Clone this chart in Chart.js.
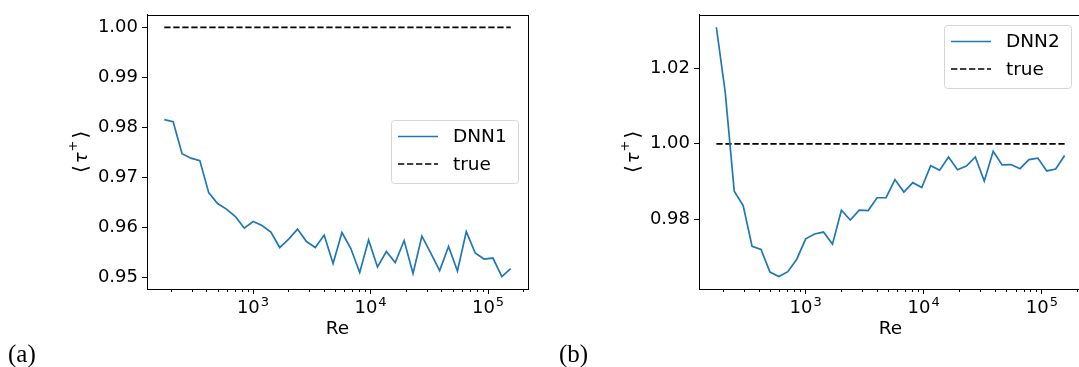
<!DOCTYPE html>
<html><head><meta charset="utf-8">
<script src="https://cdn.jsdelivr.net/npm/chart.js@4/dist/chart.umd.min.js"></script>
<style>
html,body{margin:0;padding:0;background:#fff;overflow:hidden;width:1079px;height:367px;position:relative;}
.box{position:absolute;top:0;}
.lab{position:absolute;font-family:"Liberation Serif","DejaVu Serif",serif;font-size:25px;color:#000;line-height:1;}
</style></head><body>
<div class="box" style="left:0;width:540px;height:367px"><canvas id="c1" width="540" height="367"></canvas></div>
<div class="box" style="left:540px;width:560px;height:367px"><canvas id="c2" width="560" height="367"></canvas></div>
<div class="lab" style="left:8px;top:341px">(a)</div>
<div class="lab" style="left:559px;top:341px">(b)</div>
<script>
// ---- data ----
const reValues = [175.8, 209.2, 249.0, 296.3, 352.7, 419.8, 499.5, 594.5, 707.5, 842.1,
  1002, 1193, 1419, 1689, 2011, 2393, 2848, 3388, 4033, 4800,
  5713, 6799, 8091, 9630, 11460, 13640, 16230, 19320, 22990, 27360,
  32560, 38750, 46120, 54890, 65330, 77750, 92520, 110100, 131000, 156000];
const dnn1 = [0.9815, 0.9811, 0.9747, 0.9738, 0.9733, 0.9669, 0.9647, 0.9636, 0.9621, 0.9598,
  0.9611, 0.9603, 0.9590, 0.9559, 0.9576, 0.9596, 0.9571, 0.9559, 0.9584, 0.9527,
  0.9589, 0.9557, 0.9509, 0.9574, 0.9520, 0.9551, 0.9529, 0.9573, 0.9507, 0.9582,
  0.9548, 0.9513, 0.9561, 0.9512, 0.9591, 0.9548, 0.9536, 0.9538, 0.9501, 0.9517];
const dnn2 = [1.0309, 1.0135, 0.9874, 0.9836, 0.9728, 0.9720, 0.9660, 0.9648, 0.9661, 0.9694,
  0.9748, 0.9761, 0.9766, 0.9734, 0.9824, 0.9798, 0.9824, 0.9823, 0.9857, 0.9857,
  0.9905, 0.9872, 0.9897, 0.9884, 0.9942, 0.9930, 0.9965, 0.9931, 0.9941, 0.9965,
  0.9901, 0.9980, 0.9944, 0.9945, 0.9934, 0.9958, 0.9962, 0.9928, 0.9933, 0.9969];
const trueRe = [175.8, 156000];
const trueValue = [1.0, 1.0];
const xMajorTicks = [1e3, 1e4, 1e5];
const xTickBase = ['10', '10', '10'];
const xTickExp = ['3', '4', '5'];
const y1Ticks = [0.95, 0.96, 0.97, 0.98, 0.99, 1.00];
const y1TickLabels = ['0.95', '0.96', '0.97', '0.98', '0.99', '1.00'];
const y2Ticks = [0.98, 1.00, 1.02];
const y2TickLabels = ['0.98', '1.00', '1.02'];
const seriesNames = ['DNN1', 'DNN2', 'true'];
const xTitle = 'Re';

// ---- drawing ----
const FAM = '"DejaVu Sans", sans-serif';
const FONT = {family: FAM, size: 18};
const BLUE = '#1f77b4';

const framePlugin = {
  id: 'frame',
  afterDatasetsDraw(chart) {
    const {ctx, chartArea: a} = chart;
    ctx.save();
    ctx.strokeStyle = '#000'; ctx.lineWidth = 1;
    ctx.strokeRect(Math.round(a.left) + 0.5, Math.round(a.top) + 0.5, Math.round(a.right - a.left), Math.round(a.bottom - a.top));
    // minor x ticks
    const xs = chart.scales.x;
    ctx.beginPath();
    for (let d = 2; d <= 5; d++) {
      for (let m = 2; m <= 9; m++) {
        const v = m * Math.pow(10, d);
        if (v < xs.min || v > xs.max) continue;
        const px = Math.round(xs.getPixelForValue(v)) + 0.5;
        ctx.moveTo(px, a.bottom); ctx.lineTo(px, a.bottom + 3);
      }
    }
    ctx.stroke();
    // x tick labels 10^n
    ctx.fillStyle = '#000';
    ctx.textBaseline = 'alphabetic'; ctx.textAlign = 'left';
    xMajorTicks.forEach((v, i) => {
      const px = xs.getPixelForValue(v);
      ctx.font = '18px ' + FAM;
      const wb = ctx.measureText(xTickBase[i]).width;
      ctx.font = '13px ' + FAM;
      const we = ctx.measureText(xTickExp[i]).width;
      const x0 = px - (wb + we + 1) / 2;
      ctx.font = '18px ' + FAM;
      ctx.fillText(xTickBase[i], x0, a.bottom + 24);
      ctx.font = '13px ' + FAM;
      ctx.fillText(xTickExp[i], x0 + wb + 1, a.bottom + 17);
    });
    // y title <tau^+>
    const cy = (a.top + a.bottom) / 2;
    const cx = a.left - 66;
    ctx.translate(cx, cy);
    ctx.rotate(-Math.PI / 2);
    const parts = [
      {t: '\u27E8', f: '20px ' + FAM, dy: 0, gap: 2},
      {t: '\u03C4', f: 'italic 18px ' + FAM, dy: 0, gap: 1},
      {t: '+', f: '13px ' + FAM, dy: -8, gap: 2},
      {t: '\u27E9', f: '20px ' + FAM, dy: 0, gap: 0}
    ];
    let tw = 0;
    parts.forEach(p => { ctx.font = p.f; p.w = ctx.measureText(p.t).width; tw += p.w + p.gap; });
    let xx = -tw / 2;
    ctx.textBaseline = 'middle';
    parts.forEach(p => { ctx.font = p.f; ctx.fillText(p.t, xx, p.dy + 1); xx += p.w + p.gap; });
    ctx.restore();
  }
};

const legendPlugin = {
  id: 'boxLegend',
  afterDraw(chart, args, o) {
    const {ctx, chartArea: a} = chart;
    const x0 = Math.round(a.right - o.right - o.width);
    const y0 = Math.round(o.center ? (a.top + a.bottom) / 2 - o.height / 2 : a.top + o.top);
    ctx.save();
    ctx.beginPath();
    ctx.roundRect(x0 + 0.5, y0 + 0.5, o.width, o.height, 3);
    ctx.fillStyle = 'rgba(255,255,255,0.8)'; ctx.fill();
    ctx.strokeStyle = '#d6d6d6'; ctx.lineWidth = 1; ctx.stroke();
    chart.data.datasets.forEach((ds, i) => {
      const yy = y0 + 16.5 + i * 27.5;
      ctx.beginPath();
      ctx.setLineDash(ds.borderDash || []);
      ctx.strokeStyle = ds.borderColor; ctx.lineWidth = ds.borderWidth;
      ctx.moveTo(x0 + 7, yy); ctx.lineTo(x0 + 47, yy); ctx.stroke();
      ctx.setLineDash([]);
      ctx.fillStyle = '#000';
      ctx.font = '18.5px ' + FAM;
      ctx.textBaseline = 'middle'; ctx.textAlign = 'left';
      ctx.fillText(ds.label, x0 + 62, yy + 1);
    });
    ctx.restore();
  }
};

function makeChart(id, name, values, yMin, yMax, yTicks, yLabels, pad, legendOpts) {
  const pts = reValues.map((r, i) => ({x: r, y: values[i]}));
  const tpts = trueRe.map((r, i) => ({x: r, y: trueValue[i]}));
  return new Chart(document.getElementById(id), {
    type: 'line',
    data: {datasets: [
      {label: name, data: pts, borderColor: BLUE, borderWidth: 1.7, pointRadius: 0, tension: 0, fill: false},
      {label: seriesNames[2], data: tpts, borderColor: '#000', borderWidth: 1.7, borderDash: [6.3, 2.7], pointRadius: 0, fill: false}
    ]},
    options: {
      responsive: false, animation: false, devicePixelRatio: 1,
      layout: {padding: pad},
      plugins: {legend: {display: false}, tooltip: {enabled: false}, boxLegend: legendOpts},
      scales: {
        x: {
          type: 'logarithmic', min: 125.3, max: 218800,
          afterBuildTicks: s => { s.ticks = xMajorTicks.map(v => ({value: v})); },
          afterFit: s => { s.height = 55; },
          ticks: {display: false, autoSkip: false, maxRotation: 0},
          grid: {display: true, drawOnChartArea: false, drawTicks: true, tickLength: 5, tickColor: '#000'},
          border: {display: true, color: '#000', width: 1},
          title: {display: true, text: xTitle, color: '#000', font: {family: FAM, size: 18.5}, padding: {top: 0, bottom: 4}}
        },
        y: {
          type: 'linear', min: yMin, max: yMax,
          afterBuildTicks: s => { s.ticks = yTicks.map(v => ({value: v})); },
          afterFit: s => { s.width = 80; },
          ticks: {autoSkip: false, padding: 4, color: '#000', font: FONT,
            callback: (v, i) => yLabels[i]},
          grid: {display: true, drawOnChartArea: false, drawTicks: true, tickLength: 5, tickColor: '#000'},
          border: {display: true, color: '#000', width: 1},
          title: {display: false}
        }
      }
    },
    plugins: [framePlugin, legendPlugin]
  });
}

makeChart('c1', seriesNames[0], dnn1, 0.9476, 1.0025, y1Ticks, y1TickLabels,
  {left: 67, top: 7, right: 12, bottom: 23},
  {right: 10, width: 127, height: 63, center: true});
makeChart('c2', seriesNames[1], dnn2, 0.9615, 1.0342, y2Ticks, y2TickLabels,
  {left: 79, top: 7, right: 18, bottom: 23},
  {right: 11, width: 127, height: 63, top: 10});
</script>
</body></html>
